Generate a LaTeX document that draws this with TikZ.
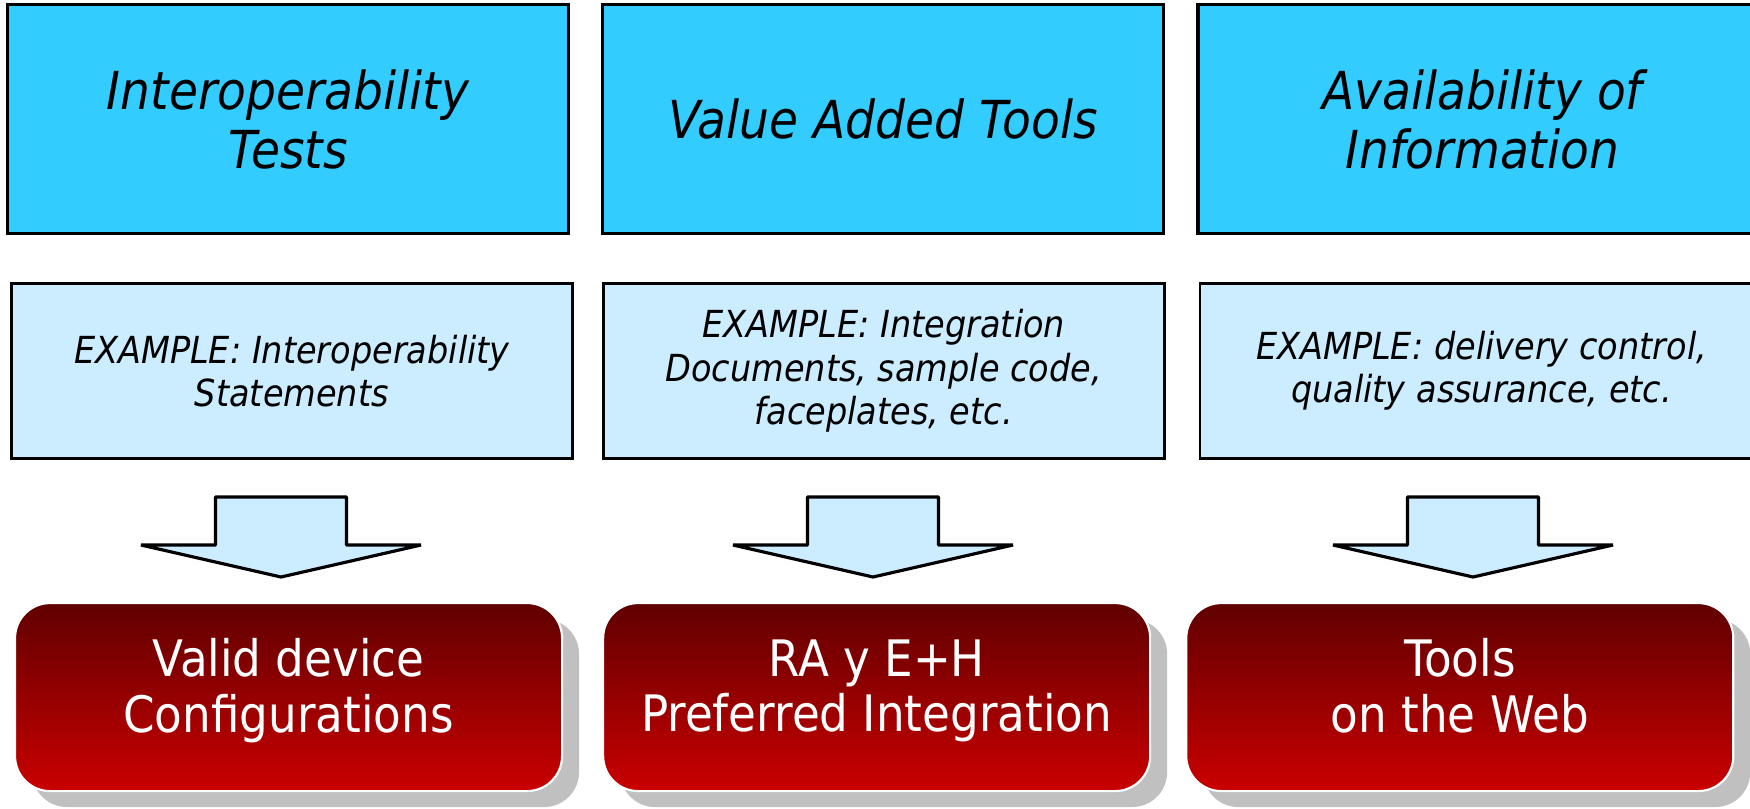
\documentclass[tikz,border=0pt]{standalone}
\usepackage{fontspec}
\setmainfont{DejaVu Sans}[FakeStretch=0.9]
\usetikzlibrary{positioning, shadows}

\definecolor{topblue}{RGB}{51,204,255}
\definecolor{paleblue}{RGB}{204,236,255}
\definecolor{darkred}{RGB}{96,0,0}
\definecolor{brightred}{RGB}{202,0,0}
\definecolor{shadowgray}{RGB}{192,192,192}

\begin{document}
\begin{tikzpicture}[node distance=0.3cm,
        topbox/.style={draw=black, line width=0.9pt, fill=topblue, minimum width=5.61cm,
            minimum height=2.29cm, inner sep=0pt, align=center,
            font=\itshape\fontsize{14.9}{16.8}\selectfont},
        examplebox/.style={draw=black, line width=0.8pt, fill=paleblue, minimum width=5.61cm,
            minimum height=1.75cm, inner sep=0pt, align=center,
            font=\itshape\fontsize{10.6}{12.3}\selectfont},
        resultbox/.style={draw=white, line width=0.6pt, rounded corners=3.5mm,
            top color=darkred, bottom color=brightred, minimum width=5.47cm,
            minimum height=1.88cm, inner sep=0pt, align=center, text=white,
            font=\fontsize{14.3}{15.8}\selectfont,
            execute at end node={\rule[-6.5pt]{0pt}{6.5pt}},
            drop shadow={shadow xshift=1.7mm, shadow yshift=-1.6mm, fill=shadowgray, opacity=1}},
        blockarrow/.style={draw=black, line width=0.9pt, fill=paleblue, line join=bevel}]

    \useasboundingbox (0,0) rectangle (17.5,-8.08);

    % headings
    \node[topbox, anchor=north west] (t1) at (0.06,-0.03) {Interoperability\\Tests};
    \node[topbox, right=0.31cm of t1] (t2) {Value Added Tools};
    \node[topbox, right=0.31cm of t2, minimum width=5.69cm] (t3) {Availability of\\Information};

    % examples
    \node[examplebox, anchor=north west] (m1) at (0.10,-2.82) {EXAMPLE: Interoperability\\Statements};
    \node[examplebox, right=0.28cm of m1] (m2) {EXAMPLE: Integration\\Documents, sample code,\\faceplates, etc.};
    \node[examplebox, right=0.33cm of m2, minimum width=5.63cm] (m3) {EXAMPLE: delivery control,\\quality assurance, etc.};

    % results
    \node[resultbox, anchor=north west] (b1) at (0.14,-6.02) {Valid device\\Configurations};
    \node[resultbox, right=0.39cm of b1] (b2) {RA y E+H\\Preferred Integration};
    \node[resultbox, right=0.34cm of b2] (b3) {Tools\\on the Web};

    % block arrows
    \coordinate (a1) at (2.81,-5.77);
    \coordinate (a2) at (8.73,-5.77);
    \coordinate (a3) at (14.73,-5.77);

    \draw[blockarrow] (a1) -- ++(-1.40,0.32) -- ++(0.745,0) -- ++(0,0.48) -- ++(1.31,0) -- ++(0,-0.48) -- ++(0.745,0) -- cycle;
    \draw[blockarrow] (a2) -- ++(-1.40,0.32) -- ++(0.745,0) -- ++(0,0.48) -- ++(1.31,0) -- ++(0,-0.48) -- ++(0.745,0) -- cycle;
    \draw[blockarrow] (a3) -- ++(-1.40,0.32) -- ++(0.745,0) -- ++(0,0.48) -- ++(1.31,0) -- ++(0,-0.48) -- ++(0.745,0) -- cycle;

\end{tikzpicture}
\end{document}
